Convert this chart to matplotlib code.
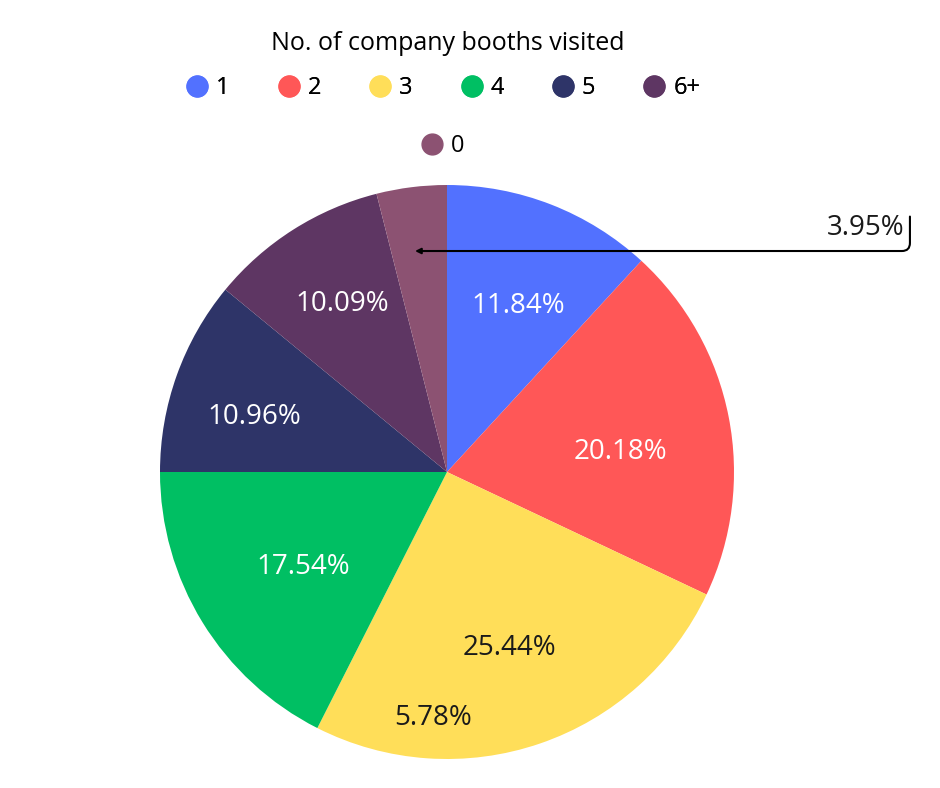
import numpy as np
import matplotlib
matplotlib.use("Agg")
import matplotlib.pyplot as plt
from matplotlib.lines import Line2D

plt.rcParams["font.family"] = ["Open Sans", "DejaVu Sans"]

# data
categories = ["1", "2", "3", "4", "5", "6+", "0"]
shares = [11.84, 20.18, 25.44, 17.54, 10.96, 10.09, 3.95]
slice_colors = ["#5271FF", "#FF5757", "#FFDE59", "#00BF63", "#2E3468", "#5E3663", "#8C5272"]
label_colors = ["white", "white", "#1a1a1a", "white", "white", "white", None]
# label placement: distance from centre, and angular nudge from the wedge middle (deg)
label_radius = [0.63, 0.61, 0.65, 0.60, 0.70, 0.69, None]
label_nudge = [-2.0, -4.5, 0.5, 1.8, 3.7, -0.4, None]
stray_label = "5.78%"

fig = plt.figure(figsize=(9.4, 7.88), dpi=100)
ax = fig.add_axes([160 / 940, 29 / 788, 574 / 940, 574 / 788])

wedges, _ = ax.pie(shares, colors=slice_colors, startangle=90, counterclock=False,
                   radius=1.0, wedgeprops=dict(linewidth=0))
ax.set_xlim(-1, 1)
ax.set_ylim(-1, 1)
ax.set_aspect("equal")
ax.axis("off")

for w, val, tc, r, nd in zip(wedges, shares, label_colors, label_radius, label_nudge):
    if tc is None:
        continue
    mid = np.deg2rad((w.theta1 + w.theta2) / 2 + nd)
    ax.text(r * np.cos(mid), r * np.sin(mid), f"{val:.2f}%", color=tc,
            ha="center", va="center", fontsize=20)

ax.text(-0.05, -0.857, stray_label, ha="center", va="center", fontsize=20, color="#1a1a1a")

# callout for the small slice
small = wedges[-1]
mid = np.deg2rad((small.theta1 + small.theta2) / 2)
tip = (0.9 * np.cos(mid), 0.77)
ax.annotate("", xy=tip, xytext=(1.613, 0.89), annotation_clip=False,
            arrowprops=dict(arrowstyle="-|>", color="black", lw=1.5, mutation_scale=8,
                            shrinkA=0, shrinkB=0,
                            connectionstyle="angle,angleA=90,angleB=0,rad=8"))
ax.text(1.595, 0.85, f"{shares[-1]:.2f}%", ha="right", va="center", fontsize=20,
        color="#1a1a1a", clip_on=False)

# legend
fig.text(448 / 940, 1 - 44 / 788, "No. of company booths visited", ha="center",
         va="center", fontsize=18, color="black")
handles = [Line2D([], [], marker="o", ls="", color=c, markersize=15) for c in slice_colors]
leg1 = fig.legend(handles[:6], categories[:6], loc="center", ncol=6, frameon=False,
                  bbox_to_anchor=(443 / 940, 1 - 88 / 788), fontsize=17,
                  handletextpad=0.3, columnspacing=2.0, handlelength=1.0)
fig.add_artist(leg1)
fig.legend(handles[6:], categories[6:], loc="center", frameon=False,
           bbox_to_anchor=(442 / 940, 1 - 146 / 788), fontsize=17,
           handletextpad=0.3, handlelength=1.0)

fig.savefig("out.png", dpi=100, facecolor="white")
